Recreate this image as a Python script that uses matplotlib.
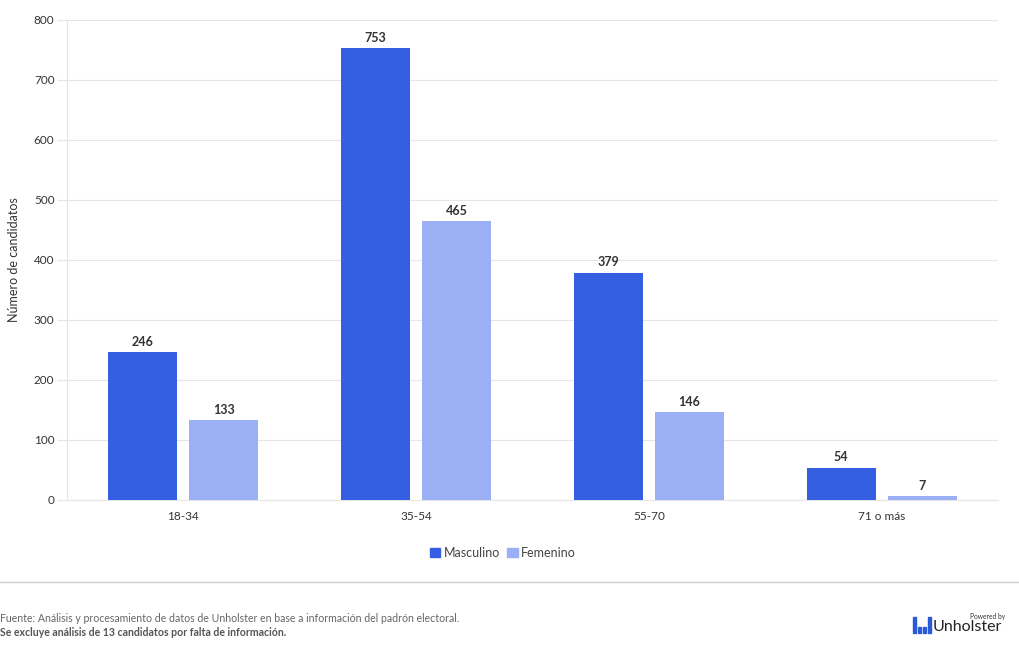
import matplotlib
matplotlib.use("Agg")
import matplotlib.pyplot as plt
from matplotlib.patches import Rectangle, FancyBboxPatch
from matplotlib.lines import Line2D
import numpy as np

# Data
categorias = ["18-34", "35-54", "55-70", "71 o más"]
masculino = [246, 753, 379, 54]
femenino = [133, 465, 146, 7]
yticks = [0, 100, 200, 300, 400, 500, 600, 700, 800]

color_m = "#345fe2"
color_f = "#9bb0f4"
grid_c = "#e6e6e6"
text_c = "#333333"

plt.rcParams['font.family'] = ['Lato', 'DejaVu Sans']

fig = plt.figure(figsize=(10.2, 6.5), dpi=100)
ax = fig.add_axes([67 / 1020, 1 - 500 / 650, 931 / 1020, 480 / 650])

x = np.arange(len(categorias))
w = 0.296
off = 0.174
bm = ax.bar(x - off, masculino, w, color=color_m, label="Masculino", zorder=3)
bf = ax.bar(x + off, femenino, w, color=color_f, label="Femenino", zorder=3)

for bars, vals in [(bm, masculino), (bf, femenino)]:
    for b, v in zip(bars, vals):
        ax.annotate(f"{v}", (b.get_x() + b.get_width() / 2, v), xytext=(0, 3),
                    textcoords="offset points", ha="center", va="bottom",
                    fontsize=9, fontweight="bold", color=text_c)

ax.set_xlim(-0.5, 3.5)
ax.set_ylim(0, 800)
ax.set_yticks(yticks)
ax.set_xticks(x)
ax.set_xticklabels(categorias)
ax.tick_params(axis="y", length=7, color=grid_c, labelsize=8.5, labelcolor=text_c, pad=2)
ax.tick_params(axis="x", length=0, labelsize=8.5, labelcolor=text_c, pad=8)
ax.grid(axis="y", color=grid_c, linewidth=0.8, zorder=0)
for s in ["top", "right"]:
    ax.spines[s].set_visible(False)
ax.spines["left"].set_color(grid_c)
ax.spines["bottom"].set_color(grid_c)
ax.set_ylabel("Número de candidatos", fontsize=9, color=text_c, labelpad=10)

# Legend
handles = [Rectangle((0, 0), 1, 1, color=color_m), Rectangle((0, 0), 1, 1, color=color_f)]
fig.legend(handles, ["Masculino", "Femenino"], loc="center", bbox_to_anchor=(503 / 1020, 1 - 553 / 650),
           ncol=2, frameon=False, fontsize=9, handlelength=0.8, handleheight=0.8,
           handletextpad=0.3, columnspacing=0.6, labelcolor="#444444")

# Footer
fig.add_artist(Line2D([0, 1], [1 - 582 / 650] * 2, color="#cccccc", linewidth=1))
fig.text(0.0, 1 - 618 / 650, "Fuente: Análisis y procesamiento de datos de Unholster en base a información del padrón electoral.",
         fontsize=7.6, color="#666666", va="center")
fig.text(0.0, 1 - 632 / 650, "Se excluye análisis de 13 candidatos por falta de información.",
         fontsize=7.6, color="#555555", fontweight="bold", va="center")

# Logo
logo_bars = [(913, 617, 3, 16), (918, 627, 3, 6), (923, 627, 3, 6), (928, 617, 3, 16)]
for lx, ly, lw, lh in logo_bars:
    fig.add_artist(Rectangle((lx / 1020, 1 - (ly + lh) / 650), lw / 1020, lh / 650,
                             color="#2a5bd7", transform=fig.transFigure))
fig.text(933 / 1020, 1 - 627 / 650, "Unholster", fontsize=11.5, color="#222222", va="center")
fig.text(1005 / 1020, 1 - 616 / 650, "Powered by", fontsize=4.8, color="#333333", va="center", ha="right")

fig.savefig("out.png", dpi=100, facecolor="white")
